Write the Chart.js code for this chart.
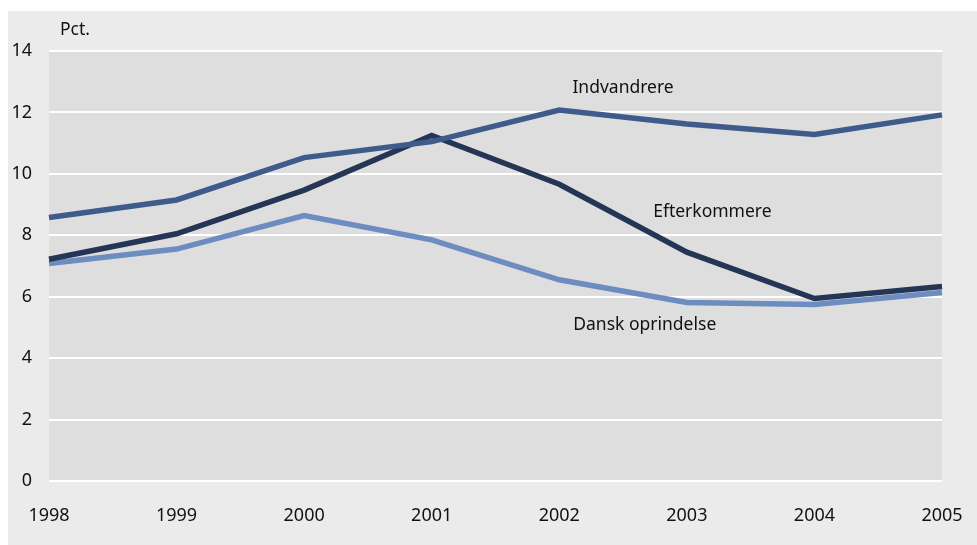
<!DOCTYPE html>
<html>
<head>
<meta charset="utf-8">
<script src="https://cdn.jsdelivr.net/npm/chart.js@4/dist/chart.umd.min.js"></script>
<style>
  body { margin: 0; background: #ffffff; }
  #wrap { position: absolute; left: 8px; top: 11px; width: 969px; height: 534px; background: #ebebeb; }
</style>
</head>
<body>
<div id="wrap"><canvas id="myChart"></canvas></div>
<script>
// data
var years = ['1998', '1999', '2000', '2001', '2002', '2003', '2004', '2005'];
var indvandrere = [8.58, 9.15, 10.53, 11.05, 12.08, 11.62, 11.28, 11.92];
var efterkommere = [7.22, 8.05, 9.47, 11.25, 9.66, 7.45, 5.94, 6.33];
var danskOprindelse = [7.08, 7.55, 8.64, 7.85, 6.55, 5.81, 5.75, 6.14];
var yTicks = [0, 2, 4, 6, 8, 10, 12, 14];

// series name labels, placed in data units (x index, y value)
var seriesLabels = [
  { text: 'Indvandrere', x: 4.5, y: 12.78 },
  { text: 'Efterkommere', x: 5.2, y: 8.76 },
  { text: 'Dansk oprindelse', x: 4.67, y: 5.08 }
];

var font = '"Noto Sans", sans-serif';

var plotBg = {
  id: 'plotBg',
  beforeDraw: function(chart) {
    var a = chart.chartArea, ctx = chart.ctx;
    ctx.save();
    ctx.fillStyle = '#dedede';
    ctx.fillRect(a.left, a.top, a.right - a.left, a.bottom - a.top);
    ctx.restore();
  },
  afterDraw: function(chart) {
    var ctx = chart.ctx, xs = chart.scales.x, ys = chart.scales.y;
    ctx.save();
    ctx.fillStyle = '#111111';
    ctx.font = '17.5px ' + font;
    ctx.textAlign = 'center';
    ctx.textBaseline = 'middle';
    seriesLabels.forEach(function(l) {
      ctx.fillText(l.text, xs.getPixelForValue(l.x), ys.getPixelForValue(l.y));
    });
    ctx.textAlign = 'left';
    ctx.fillText('Pct.', chart.chartArea.left + 11, chart.chartArea.top - 21);
    ctx.restore();
  }
};

var ctx = document.getElementById('myChart').getContext('2d');
var myChart = new Chart(ctx, {
  type: 'line',
  data: {
    labels: years,
    datasets: [
      { label: 'Indvandrere', data: indvandrere, borderColor: '#3f5b8c' },
      { label: 'Efterkommere', data: efterkommere, borderColor: '#243555' },
      { label: 'Dansk oprindelse', data: danskOprindelse, borderColor: '#6d8cc0' }
    ].map(function(d) {
      d.borderWidth = 5.5;
      d.pointRadius = 0;
      d.tension = 0;
      d.fill = false;
      d.borderJoinStyle = 'miter';
      return d;
    })
  },
  options: {
    responsive: true,
    maintainAspectRatio: false,
    animation: false,
    layout: { padding: { top: 40, right: 35, bottom: 0, left: 0 } },
    plugins: {
      legend: { display: false },
      tooltip: { enabled: false }
    },
    scales: {
      x: {
        offset: false,
        grid: { display: false },
        border: { display: false },
        ticks: {
          color: '#111111',
          font: { family: font, size: 18 },
          padding: 16,
          autoSkip: false,
          maxRotation: 0
        },
        afterFit: function(s) {
          s.height = 64;
          s.paddingLeft = 0;
          s.paddingRight = 0;
        }
      },
      y: {
        min: 0,
        max: 14,
        afterBuildTicks: function(s) {
          s.ticks = yTicks.map(function(v) { return { value: v }; });
        },
        grid: { color: '#ffffff', lineWidth: 2, drawTicks: false },
        border: { display: false },
        ticks: {
          color: '#111111',
          font: { family: font, size: 18 },
          padding: 17
        },
        afterFit: function(s) { s.width = 41; }
      }
    }
  },
  plugins: [plotBg]
});
</script>
</body>
</html>
